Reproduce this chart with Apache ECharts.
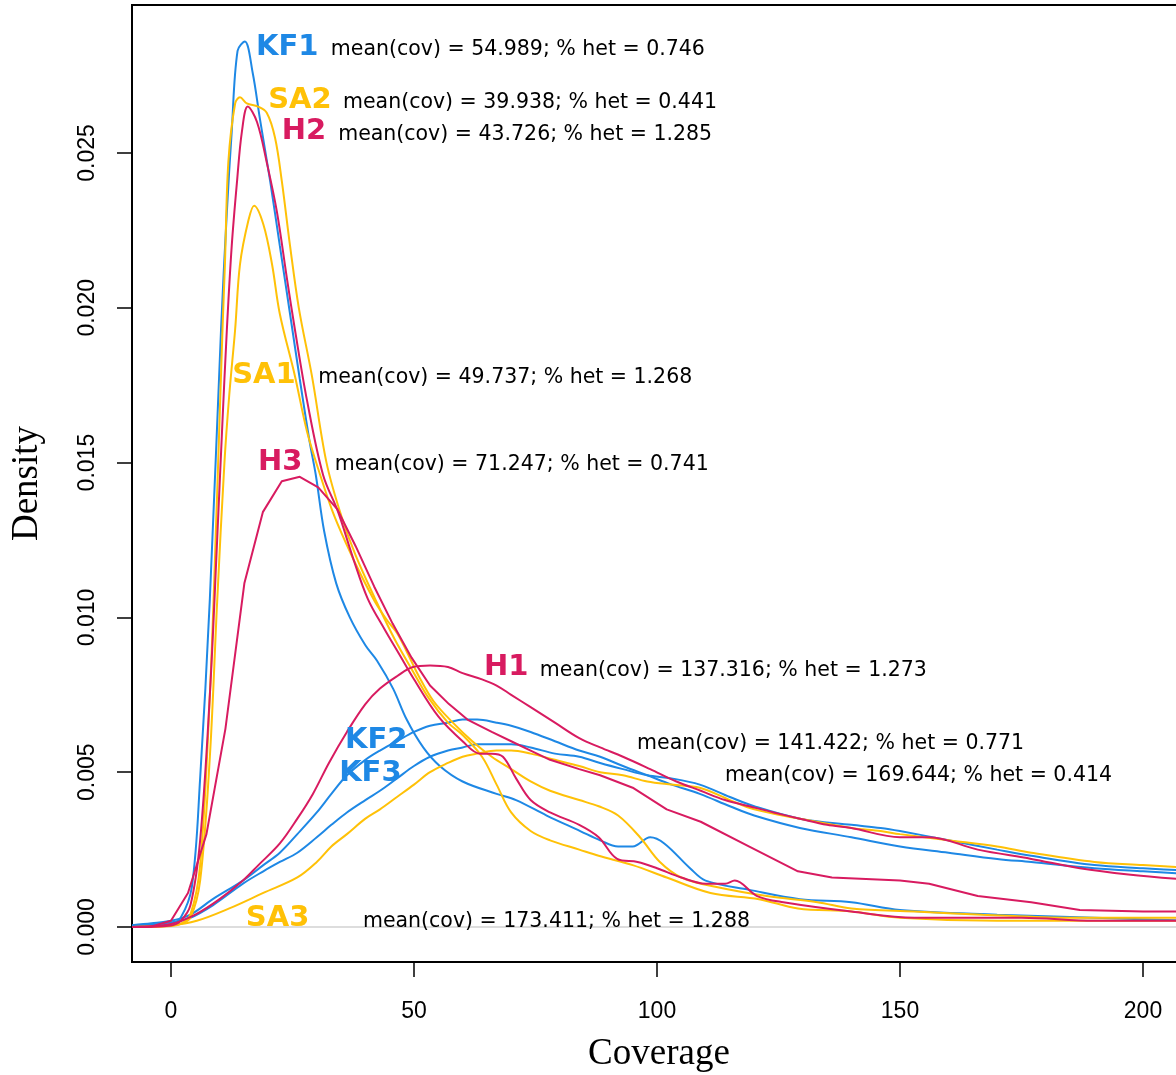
<!DOCTYPE html>
<html>
<head>
<meta charset="utf-8">
<script src="https://cdn.jsdelivr.net/npm/echarts@6/dist/echarts.min.js"></script>
<style>
  html, body { margin: 0; padding: 0; background: #fff; }
  #chart { width: 1176px; height: 1075px; }
</style>
</head>
<body>
<div id="chart"></div>
<script>
// density curves, [coverage, density]
var kf1 = [[-8, 0.00003], [-4, 0.00005], [0, 0.0001], [2, 0.0003], [4.3, 0.0013], [6, 0.0048], [8, 0.0106], [10.3, 0.0193], [11.5, 0.0231], [12.5, 0.0257], [13.7, 0.0283], [15.2, 0.0286], [16.8, 0.0276], [18.3, 0.0261], [20.4, 0.0241], [22.4, 0.0220], [24.5, 0.0198], [26.5, 0.0177], [28.5, 0.0157], [29.8, 0.0146], [31.5, 0.0128], [34, 0.0111], [36.8, 0.0100], [40, 0.0091], [42.4, 0.0086], [45.7, 0.0077], [48.5, 0.0067], [51.9, 0.0058], [55.3, 0.0052], [60, 0.0047], [67, 0.0043], [71, 0.0041], [77.3, 0.0036], [84.2, 0.0031], [88.3, 0.0028], [92, 0.0026], [95, 0.0026], [98.6, 0.0029], [101.5, 0.0027], [106.8, 0.0019], [110, 0.0015], [119, 0.0012], [129.4, 0.0009], [140, 0.0008], [150, 0.00055], [170, 0.0004], [190, 0.0003], [211, 0.0002]];
var kf2 = [[-8, 0.00006], [-4, 0.00012], [0, 0.0002], [4, 0.0004], [8.6, 0.0009], [14.8, 0.0015], [19, 0.0020], [22.4, 0.0024], [26, 0.0030], [30, 0.0037], [33, 0.0043], [36.2, 0.0049], [40, 0.0054], [43, 0.0057], [46.5, 0.0060], [50, 0.0063], [53.3, 0.0065], [57, 0.0066], [60, 0.0067], [63, 0.0067], [67, 0.0066], [70, 0.0065], [74, 0.0063], [79, 0.0060], [84, 0.0057], [88.3, 0.0055], [93, 0.0052], [98, 0.0049], [103, 0.0046], [108.8, 0.0043], [115, 0.0039], [120, 0.0036], [129.4, 0.0032], [140, 0.0029], [150, 0.0026], [160, 0.0024], [170, 0.0022], [177, 0.0021], [190, 0.0019], [200, 0.0018], [211, 0.0017]];
var kf3 = [[-8, 0.00004], [-4, 0.00008], [0, 0.00015], [4, 0.0003], [8.6, 0.0007], [14.8, 0.0014], [19, 0.0018], [22.4, 0.0021], [26, 0.0024], [30, 0.0029], [33, 0.0033], [36.2, 0.0037], [40, 0.0041], [43, 0.0044], [46.5, 0.0048], [50, 0.0052], [53.3, 0.0055], [57, 0.0057], [60, 0.0058], [63, 0.0059], [67, 0.0059], [70, 0.0059], [74, 0.0058], [79, 0.0056], [84, 0.0055], [88.3, 0.0053], [93, 0.0051], [98, 0.0049], [103, 0.0048], [108.8, 0.0046], [115, 0.0042], [120, 0.0039], [129.4, 0.0035], [140, 0.0033], [146, 0.0032], [150, 0.0031], [160, 0.0028], [170, 0.0025], [177, 0.0023], [190, 0.0020], [200, 0.0019], [211, 0.0018]];
var sa1 = [[-8, 0], [0, 0.00003], [2, 0.0001], [4, 0.0003], [6, 0.0015], [8, 0.0055], [9.5, 0.0105], [11, 0.0150], [12, 0.0172], [13.2, 0.0193], [14.2, 0.0214], [15.9, 0.0228], [17.1, 0.0233], [19, 0.0227], [20.8, 0.0214], [22.4, 0.0198], [25.5, 0.0178], [28, 0.0160], [30.7, 0.0146], [33.3, 0.0134], [36, 0.0124], [39, 0.0114], [42, 0.0105], [44.5, 0.0099], [46.5, 0.0095], [48.5, 0.0089], [51, 0.0081], [54, 0.0073], [58, 0.0066], [62, 0.0060], [66, 0.0055], [70, 0.0051], [74, 0.0047], [78, 0.0044], [84, 0.0041], [88, 0.0039], [92, 0.0036], [96.5, 0.0029], [100.6, 0.0021], [105, 0.0016], [112, 0.0013], [122.6, 0.0010], [133, 0.0008], [140, 0.0006], [153, 0.0005], [167, 0.0004], [185, 0.0003], [211, 0.0003]];
var sa2 = [[-8, 0], [0, 0.00005], [2, 0.0001], [4, 0.0004], [6, 0.0020], [8, 0.0075], [9.5, 0.0140], [10.6, 0.0193], [11.1, 0.0214], [11.8, 0.0247], [13.2, 0.0266], [14.2, 0.0268], [15.6, 0.0266], [17.9, 0.0265], [19.7, 0.0263], [21.4, 0.0255], [22.8, 0.0241], [24.5, 0.0220], [26.3, 0.0200], [29, 0.0178], [32, 0.0150], [35, 0.0133], [38, 0.0120], [42, 0.0106], [46, 0.0093], [50, 0.0082], [53, 0.0074], [57, 0.0066], [60, 0.0062], [64, 0.0055], [67, 0.0046], [70, 0.0037], [74, 0.0031], [78, 0.0028], [84, 0.0025], [88, 0.0023], [95, 0.0020], [102, 0.0016], [111, 0.0011], [121, 0.0009], [129, 0.0006], [140, 0.0005], [150, 0.0003], [170, 0.0002], [190, 0.0002], [211, 0.0002]];
var sa3 = [[-8, 0], [0, 0.00005], [5.3, 0.0002], [12, 0.0006], [19, 0.0011], [26, 0.0016], [30, 0.0021], [33, 0.0026], [36.2, 0.0030], [40, 0.0035], [43, 0.0038], [46.5, 0.0042], [50, 0.0046], [53.3, 0.0050], [57, 0.0053], [60, 0.0055], [63, 0.0056], [67, 0.0057], [70, 0.0057], [74, 0.0056], [79, 0.0054], [84, 0.0052], [88.3, 0.0050], [93, 0.0049], [98, 0.0047], [103, 0.0046], [108.8, 0.0045], [115, 0.0041], [120, 0.0038], [129.4, 0.0035], [140, 0.0032], [146, 0.0031], [150, 0.0030], [160, 0.0028], [170, 0.0026], [177, 0.0024], [190, 0.0021], [200, 0.0020], [211, 0.0019]];
var h1 = [[-8, 0], [0, 0.0001], [5, 0.0004], [10, 0.0009], [14.8, 0.0015], [18, 0.0020], [22.4, 0.0027], [26, 0.0035], [29.2, 0.0043], [32.5, 0.0053], [36.2, 0.0063], [40, 0.0072], [43, 0.0077], [46.5, 0.0081], [49.8, 0.0084], [53.3, 0.00845], [57, 0.0084], [60, 0.0082], [64, 0.0080], [67, 0.0078], [70, 0.0075], [74, 0.0071], [79, 0.0066], [84, 0.0061], [88.3, 0.0058], [93, 0.0055], [98.6, 0.0051], [104, 0.0047], [109, 0.0044], [114, 0.0041], [119, 0.0039], [124, 0.0037], [129.4, 0.0035], [135, 0.0033], [140, 0.0032], [150, 0.0029], [156, 0.0029], [166, 0.0025], [177, 0.0022], [187, 0.0019], [197, 0.0017], [211, 0.0015]];
var h2 = [[-8, 0], [0, 0.00005], [2, 0.0002], [4, 0.0007], [6, 0.0028], [8, 0.0075], [9.5, 0.0125], [10.5, 0.0160], [11.5, 0.0193], [12.5, 0.0220], [13.6, 0.0241], [14.6, 0.0257], [15.8, 0.0265], [17.7, 0.0260], [19.7, 0.0247], [21.8, 0.0231], [23.9, 0.0209], [25.5, 0.0193], [28, 0.0170], [31.3, 0.0146], [34.4, 0.0134], [37.5, 0.0119], [40.5, 0.0106], [44, 0.0096], [47, 0.0088], [50, 0.0080], [55, 0.0068], [60, 0.0060], [63.6, 0.0056], [66, 0.0056], [68.3, 0.0055], [71, 0.0048], [74, 0.0041], [78, 0.0037], [84, 0.0033], [88, 0.0029], [91.8, 0.0022], [96, 0.0021], [100, 0.0019], [105, 0.0016], [110, 0.0014], [114, 0.0014], [116, 0.0015], [120.6, 0.0010], [126, 0.0008], [140, 0.0005], [153, 0.0003], [175, 0.0003], [190, 0.0002], [211, 0.0002]];
var h3 = [[-8, 0], [-4, 0.00002], [0, 0.0002], [3.5, 0.0011], [7.3, 0.0030], [11.2, 0.0064], [15.1, 0.0111], [18.9, 0.0134], [22.8, 0.0144], [26.5, 0.01454], [30.3, 0.0142], [34.2, 0.0135], [38, 0.0123], [41.8, 0.0110], [45.6, 0.0098], [49.5, 0.0087], [53.3, 0.0078], [57.2, 0.0072], [61, 0.0067], [66, 0.0063], [70, 0.0060], [74, 0.0057], [78, 0.0054], [84, 0.0051], [88.3, 0.0049], [95, 0.0045], [102, 0.0038], [109, 0.0034], [119, 0.0026], [129, 0.0018], [136, 0.0016], [150, 0.0015], [156, 0.0014], [166, 0.0010], [177, 0.0008], [187, 0.00055], [200, 0.0005], [211, 0.0005]];

var sampleNames = ['KF1', 'KF2', 'KF3', 'SA1', 'SA2', 'SA3', 'H1', 'H2', 'H3'];
var meanCov = [54.989, 141.422, 169.644, 49.737, 39.938, 173.411, 137.316, 43.726, 71.247];
var pctHet = [0.746, 0.771, 0.414, 1.268, 0.441, 1.288, 1.273, 1.285, 0.741];

var xTicks = [0, 50, 100, 150, 200];
var yTicks = [0, 0.005, 0.010, 0.015, 0.020, 0.025];

var curves = [kf1, kf2, kf3, sa1, sa2, sa3, h1, h2, h3];
var colors = ['#1E88E5', '#1E88E5', '#1E88E5', '#FFC107', '#FFC107', '#FFC107', '#D81B60', '#D81B60', '#D81B60'];

// where the text labels sit (data units): [name x, name y, stats x, stats y]
var labelAt = {
    KF1: [17.5, 0.02842, 32.9, 0.02833],
    KF2: [35.8, 0.00601, 95.9, 0.00591],
    KF3: [34.6, 0.00497, 114.0, 0.00488],
    SA1: [12.6, 0.01783, 30.3, 0.01773],
    SA2: [20.0, 0.02671, 35.4, 0.02662],
    SA3: [15.4, 0.00029, 39.5, 0.00016],
    H1: [64.4, 0.00837, 75.9, 0.00827],
    H2: [22.8, 0.02568, 34.4, 0.02558],
    H3: [17.9, 0.01502, 33.7, 0.01492]
};

var myChart = echarts.init(document.getElementById('chart'));

var series = curves.map(function (d, i) {
    return {
        name: sampleNames[i],
        type: 'line',
        data: d,
        showSymbol: false,
        smooth: sampleNames[i] === 'H3' ? false : 0.35,
        lineStyle: { color: colors[i], width: 2 },
        z: 3
    };
});

// light grey line at zero
series[0].markLine = {
    silent: true,
    symbol: 'none',
    label: { show: false },
    lineStyle: { color: '#dddddd', width: 2, type: 'solid' },
    data: [{ yAxis: 0 }],
    z: 1
};

var notes = [];
sampleNames.forEach(function (n, i) {
    var p = labelAt[n];
    notes.push({
        value: [p[0], p[1]],
        label: {
            formatter: n,
            color: colors[i],
            fontFamily: 'DejaVu Sans',
            fontWeight: 'bold',
            fontSize: 29
        }
    });
    notes.push({
        value: [p[2], p[3]],
        label: {
            formatter: 'mean(cov) = ' + meanCov[i].toFixed(3) + '; % het = ' + pctHet[i].toFixed(3),
            color: '#000',
            fontFamily: 'DejaVu Sans',
            fontSize: 20.5
        }
    });
});

series.push({
    type: 'scatter',
    data: notes,
    symbolSize: 0,
    silent: true,
    z: 5,
    itemStyle: { opacity: 1 },
    label: { show: true, opacity: 1, position: 'right', distance: 0, align: 'left', verticalAlign: 'middle' }
});

var option = {
    animation: false,
    backgroundColor: '#fff',
    grid: {
        left: 132,
        top: 5,
        right: -10,
        bottom: 113,
        outerBoundsMode: 'none',
        containLabel: false,
        show: true,
        borderColor: '#000',
        borderWidth: 2,
        backgroundColor: 'transparent'
    },
    xAxis: {
        type: 'value',
        min: -8.02,
        max: 208.85,
        name: 'Coverage',
        nameLocation: 'middle',
        nameGap: 74,
        nameTextStyle: { fontFamily: 'Liberation Serif', fontSize: 37, color: '#000' },
        axisLine: { show: false, onZero: false },
        splitLine: { show: false },
        axisTick: { show: true, length: 15, lineStyle: { color: '#000', width: 1.5 }, customValues: xTicks },
        axisLabel: {
            customValues: xTicks,
            margin: 38,
            fontFamily: 'Liberation Sans',
            fontSize: 23,
            color: '#000'
        }
    },
    yAxis: {
        type: 'value',
        min: -0.00113,
        max: 0.02978,
        name: 'Density',
        nameLocation: 'middle',
        nameGap: 86,
        nameRotate: 90,
        nameTextStyle: { fontFamily: 'Liberation Serif', fontSize: 37, color: '#000' },
        axisLine: { show: false, onZero: false },
        splitLine: { show: false },
        axisTick: { show: true, length: 15, lineStyle: { color: '#000', width: 1.5 }, customValues: yTicks },
        axisLabel: {
            customValues: yTicks,
            rotate: 90,
            margin: 33,
            fontFamily: 'Liberation Sans',
            fontSize: 23,
            color: '#000',
            formatter: function (v) { return v.toFixed(3); }
        }
    },
    series: series
};

myChart.setOption(option);
</script>
</body>
</html>
